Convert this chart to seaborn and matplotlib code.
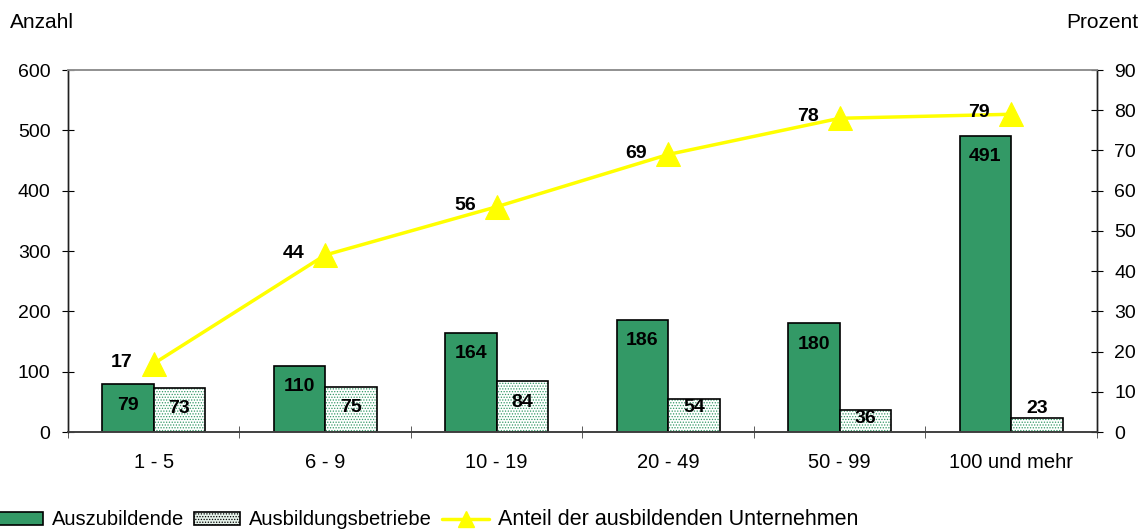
"""
plot.py - Auszubildende und Ausbildungsbetriebe nach Betriebsgröße.
"""

import matplotlib

matplotlib.use("Agg")
import matplotlib.pyplot as plt
import numpy as np
import pandas as pd
import seaborn as sns
from matplotlib.lines import Line2D
from matplotlib.patches import Patch, Rectangle

groessen = ["1 - 5", "6 - 9", "10 - 19", "20 - 49", "50 - 99", "100 und mehr"]
auszubildende = [79, 110, 164, 186, 180, 491]
betriebe = [73, 75, 84, 54, 36, 23]
anteil = [17, 44, 56, 69, 78, 79]

serien = ["Auszubildende", "Ausbildungsbetriebe"]
linie_name = "Anteil der ausbildenden Unternehmen"

GREEN = "#339966"
YELLOW = "#ffff00"

sns.set_style("ticks")
plt.rcParams["font.family"] = ["Liberation Sans", "DejaVu Sans"]
plt.rcParams["hatch.linewidth"] = 0.6
plt.rcParams["text.color"] = "black"
plt.rcParams["xtick.color"] = "black"
plt.rcParams["ytick.color"] = "black"

df = pd.DataFrame({
    "Groesse": groessen * 2,
    "Anzahl": auszubildende + betriebe,
    "Serie": [serien[0]] * len(groessen) + [serien[1]] * len(groessen),
})

fig = plt.figure(figsize=(11.46, 5.30), dpi=100)
ax = fig.add_axes([0.0593, 0.1849, 0.8979, 0.683])

sns.barplot(data=df, x="Groesse", y="Anzahl", hue="Serie", order=groessen,
            hue_order=serien, palette=[GREEN, "white"], edgecolor="black",
            linewidth=1.2, saturation=1, width=0.6, ax=ax, legend=False)

# dotted fill for the second series, black outline on top
for p in ax.containers[1]:
    p.set_hatch("......")
    p.set_edgecolor(GREEN)
    p.set_linewidth(0)
    ax.add_patch(Rectangle(p.get_xy(), p.get_width(), p.get_height(),
                           fill=False, edgecolor="black", linewidth=1.2, zorder=p.get_zorder() + 0.1))


def label_offset(v):
    if v >= 60:
        return -15
    if v >= 30:
        return -6
    return 7


for cont in ax.containers[:2]:
    for p in cont:
        v = p.get_height()
        ax.annotate(f"{v:.0f}", (p.get_x() + p.get_width() / 2, v),
                    xytext=(0, label_offset(v)), textcoords="offset points",
                    ha="center", va="center", fontsize=14, fontweight="bold", zorder=5)

ax.set_ylim(0, 600)
ax.set_yticks(np.arange(0, 601, 100))
ax.set_xlim(-0.5, len(groessen) - 0.5)
ax.set_xlabel("")
ax.set_ylabel("")
ax.set_xticks(np.arange(-0.5, len(groessen), 1), minor=True)
ax.tick_params(axis="x", which="major", length=0, labelsize=14.5, pad=15)
ax.tick_params(axis="x", which="minor", length=9, direction="inout", color="#404040")
ax.tick_params(axis="y", length=9, direction="inout", labelsize=14, pad=8)

ax2 = ax.twinx()
sns.lineplot(x=np.arange(len(anteil)), y=anteil, ax=ax2, color=YELLOW, linewidth=2.5,
             marker="^", markersize=17, markeredgecolor=YELLOW)
for i, v in enumerate(anteil):
    ax2.annotate(f"{v}", (i, v), xytext=(-23, 1), textcoords="offset points",
                 ha="center", va="center", fontsize=14, fontweight="bold")
ax2.set_ylim(0, 90)
ax2.set_yticks(np.arange(0, 91, 10))
ax2.set_ylabel("")
ax2.tick_params(axis="y", length=9, direction="inout", labelsize=14, pad=8)
ax.set_xlim(-0.5, len(groessen) - 0.5)

for a in (ax, ax2):
    a.spines["top"].set_visible(True)
    a.spines["top"].set_color("#909090")
    a.spines["top"].set_linewidth(1.2)
    for s in ("left", "right"):
        a.spines[s].set_color("#202020")
        a.spines[s].set_linewidth(1.0)
    a.spines["bottom"].set_color("#404040")
    a.spines["bottom"].set_linewidth(1.2)

fig.text(10 / 1146, 1 - 22 / 530, "Anzahl", fontsize=15, va="center", ha="left")
fig.text(1138 / 1146, 1 - 22 / 530, "Prozent", fontsize=15, va="center", ha="right")

handles = [
    Patch(facecolor=GREEN, edgecolor="black", linewidth=1.2),
    Patch(facecolor="#e6f2ea", edgecolor="black", linewidth=1.2, hatch="......"),
    Line2D([0], [0], color=YELLOW, linewidth=2.5, marker="^", markersize=12,
           markeredgecolor=YELLOW),
]
leg = fig.legend(handles, serien + [linie_name], loc="lower left", bbox_to_anchor=(-0.019, -0.035),
                 ncol=3, frameon=False, fontsize=14.5, handlelength=2.3, handleheight=0.65,
                 handletextpad=0.45, columnspacing=0.5)
leg.get_texts()[2].set_fontsize(15.5)

fig.savefig("out.png", dpi=100)
